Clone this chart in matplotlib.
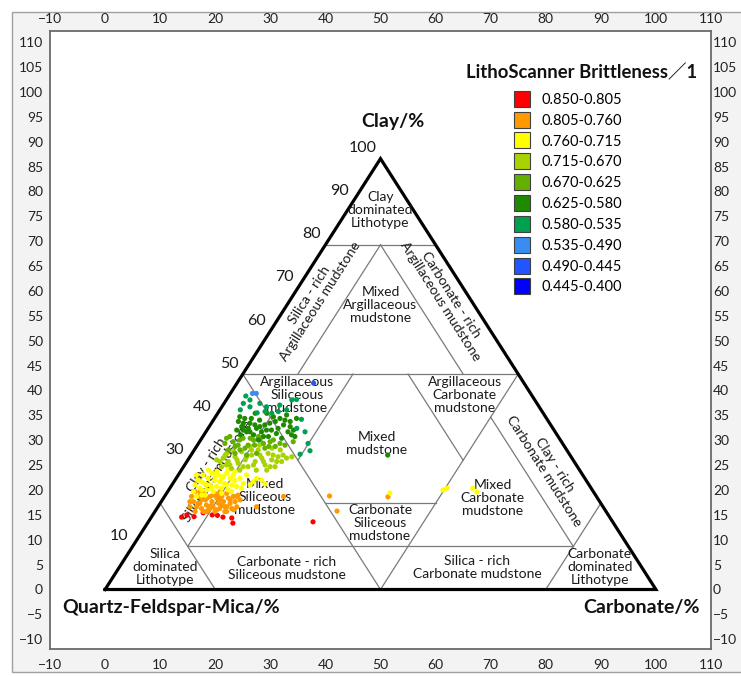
import matplotlib
matplotlib.use("Agg")
import matplotlib.pyplot as plt
from matplotlib.patches import Rectangle
from matplotlib.lines import Line2D
import numpy as np

plt.rcParams['font.family'] = ['Lato', 'DejaVu Sans']

# ---------------- data ----------------
x_ticks = list(range(-10, 111, 10))
y_ticks = list(range(-10, 111, 5))
clay_tick_values = [100, 90, 80, 70, 60, 50, 40, 30, 20, 10]

legend_labels = ["0.850-0.805", "0.805-0.760", "0.760-0.715", "0.715-0.670",
                 "0.670-0.625", "0.625-0.580", "0.580-0.535", "0.535-0.490",
                 "0.490-0.445", "0.445-0.400"]
legend_colors = ["#FF0000", "#FF9900", "#FFFF00", "#A9D300", "#63B000",
                 "#1F8A00", "#00A050", "#3A8DF0", "#2255FF", "#0000FF"]

# samples: clay % and carbonate % (QFM = 100 - clay - carbonate)
red_clay = [16.8, 17.3, 17.8, 17.3, 16.8, 16.6, 15.4, 15.7, 17.2, 16.9]
red_carb = [5.5, 6.2, 8.9, 10.8, 13.0, 14.7, 15.5, 29.9, 11.8, 7.7]

orange_clay = [19.2, 20.4, 18.1, 21.6, 20.0, 18.8, 22.3, 20.8, 19.6, 18.5,
               21.6, 20.4, 19.2, 22.3, 21.2, 20.0, 18.8, 21.6, 20.4, 19.2,
               22.3, 21.2, 20.0, 18.8, 21.6, 20.4, 19.2, 21.9, 19.2, 22.7,
               18.1, 22.7, 21.6, 18.1, 18.1, 20.8, 20.9, 19.4, 19.5, 21.6,
               19.2, 21.7, 18.2, 21.5,
               22.7, 20.0, 18.1, 21.2, 18.8, 21.9, 18.5, 20.8, 18.1, 19.2,
               20.8, 18.5, 20.4, 21.6, 21.9]
orange_carb = [5.8, 5.8, 7.3, 6.2, 7.2, 8.1, 6.7, 7.8, 8.6, 9.5,
               8.3, 9.2, 10.0, 8.8, 9.7, 10.6, 11.4, 10.4, 11.3, 12.2,
               10.9, 11.8, 12.7, 13.6, 12.5, 13.4, 14.3, 13.2, 7.0, 5.9,
               9.4, 9.5, 4.9, 10.9, 13.0, 14.1, 7.1, 9.5, 11.5, 21.6,
               17.9, 29.9, 33.0, 40.6,
               5.0, 6.9, 8.8, 7.9, 9.6, 8.7, 11.0, 10.5, 12.7, 12.5,
               12.3, 14.1, 5.2, 13.1, 9.6]

yellow_clay = [22.7, 24.3, 25.4, 23.5, 26.6, 24.6, 23.1, 25.8, 24.3, 27.0,
               22.7, 25.4, 23.9, 26.6, 25.0, 23.5, 26.2, 24.6, 27.0, 23.1,
               25.8, 24.3, 26.6, 25.3, 23.9, 25.8, 24.6, 26.6, 25.0, 25.4,
               24.5, 21.9, 21.6, 21.9, 22.3, 27.7, 27.4, 27.7,
               22.4, 23.1, 23.5, 23.5, 22.6,
               26.6, 25.0, 24.3, 23.5, 26.6, 25.8, 24.3, 22.7, 27.4, 23.5,
               24.3, 25.8, 23.1]
yellow_carb = [4.7, 4.2, 4.2, 5.5, 4.5, 5.8, 6.9, 5.8, 6.9, 5.9,
               8.3, 7.2, 8.3, 7.3, 8.3, 9.4, 8.4, 9.4, 8.6, 10.8,
               9.8, 10.9, 10.0, 10.9, 11.9, 11.6, 12.8, 12.4, 14.4, 15.7,
               16.8, 6.6, 5.8, 7.2, 10.0, 4.9, 6.6, 8.5,
               40.5, 49.8, 50.3, 55.0, 56.2,
               3.3, 5.0, 6.3, 7.6, 6.7, 8.3, 9.9, 11.6, 9.9, 13.0,
               14.2, 14.6, 6.0]

ygreen_clay = [30.1, 28.5, 31.2, 29.7, 28.1, 30.8, 29.3, 32.0, 30.1, 28.5,
               31.2, 29.7, 32.4, 30.5, 28.9, 31.6, 30.1, 28.5, 30.8, 29.7,
               30.5, 30.8, 27.7, 27.7, 27.7, 33.2, 33.5, 32.8, 32.4, 29.7,
               28.9,
               30.5, 28.9, 32.0, 30.1, 28.5, 30.8, 28.9, 31.2, 29.7, 28.5,
               31.2, 31.2, 29.7, 31.6, 32.4]
ygreen_carb = [5.2, 6.9, 6.2, 7.5, 8.9, 8.2, 9.5, 8.8, 10.4, 11.7,
               11.0, 12.4, 11.6, 13.2, 14.6, 13.8, 15.2, 16.6, 16.0, 17.2,
               17.7, 18.5, 13.6, 15.5, 10.6, 9.7, 11.3, 13.9, 15.6, 6.0,
               7.6,
               6.2, 8.2, 7.3, 8.9, 10.8, 10.3, 12.5, 12.5, 13.9, 15.7,
               14.9, 16.7, 16.3, 6.3, 10.4]

mgreen_clay = [33.9, 35.5, 33.2, 34.7, 32.8, 35.1, 33.5, 34.7, 32.8, 34.3,
               33.2, 31.6, 31.2, 32.4, 33.5, 34.3, 31.6,
               35.1, 34.3, 33.5, 35.1, 33.5, 34.7, 35.5, 33.9, 33.2, 34.7,
               33.9, 32.4]
mgreen_carb = [4.8, 4.9, 7.0, 7.1, 9.0, 8.8, 10.4, 10.8, 12.6, 12.8,
               14.3, 11.7, 10.1, 6.2, 15.9, 17.0, 7.8,
               4.5, 6.1, 7.4, 7.5, 9.2, 9.6, 10.1, 11.8, 13.1, 13.2,
               14.8, 8.3]

dgreen_clay = [39.0, 37.8, 39.7, 36.6, 38.6, 35.9, 37.4, 39.3, 36.6, 38.2,
               35.5, 37.0, 39.0, 39.7, 38.2, 40.5, 39.0, 37.0, 35.5, 39.7,
               35.9, 37.0, 40.9, 40.9, 36.2, 34.7, 35.1, 36.6, 31.2,
               40.1, 38.6, 37.4, 39.7, 38.2, 37.8, 35.5, 37.0, 38.6, 40.1,
               37.4, 39.3, 37.8, 35.9, 36.6, 37.0]
dgreen_carb = [4.7, 5.9, 5.5, 7.4, 7.0, 9.0, 8.8, 8.4, 10.1, 9.9,
               11.9, 11.7, 11.4, 11.9, 13.3, 12.7, 14.1, 15.7, 16.7, 14.9,
               6.6, 5.4, 6.8, 8.9, 13.0, 10.5, 14.5, 14.9, 35.7,
               4.4, 5.8, 7.3, 6.7, 8.1, 9.2, 11.0, 10.8, 10.6, 10.5,
               12.7, 13.0, 14.7, 15.9, 8.0, 6.6]

green_clay = [44.9, 43.2, 42.4, 41.0, 41.3, 40.9, 41.3, 44.0, 44.1, 39.5,
              37.4, 33.9, 32.2, 31.4, 42.4, 44.0, 43.2, 42.8, 41.7, 41.7,
              36.6]
green_carb = [3.1, 3.5, 5.1, 7.1, 8.4, 9.8, 10.8, 11.9, 12.7, 15.9,
              16.1, 19.9, 21.1, 19.7, 8.1, 4.3, 6.5, 10.3, 12.1, 3.7,
              18.0]

lblue_clay = [45.5, 45.5]
lblue_carb = [4.0, 4.7]

mblue_clay = [47.9]
mblue_carb = [13.9]

dblue_clay = []
dblue_carb = []

classes = [(red_clay, red_carb), (orange_clay, orange_carb),
           (yellow_clay, yellow_carb), (ygreen_clay, ygreen_carb),
           (mgreen_clay, mgreen_carb), (dgreen_clay, dgreen_carb),
           (green_clay, green_carb), (lblue_clay, lblue_carb),
           (mblue_clay, mblue_carb), (dblue_clay, dblue_carb)]

# classification boundaries: (clay, carbonate) end points
boundaries = [((80, 0), (80, 20)), ((50, 0), (50, 50)), ((10, 10), (10, 80)),
              ((20, 30), (20, 50)), ((20, 0), (0, 20)), ((0, 80), (20, 80)),
              ((50, 0), (0, 50)), ((50, 50), (0, 50)), ((80, 10), (50, 10)),
              ((80, 10), (50, 40)), ((40, 10), (10, 10)), ((40, 50), (10, 80)),
              ((50, 20), (30, 20)), ((50, 30), (30, 50))]

S3 = np.sqrt(3) / 2


def tern(clay, carb):
    clay = np.asarray(clay, dtype=float)
    carb = np.asarray(carb, dtype=float)
    return carb + clay / 2.0, clay * S3


# ---------------- figure ----------------
W, H = 741, 676
fig = plt.figure(figsize=(W / 100, H / 100), dpi=100, facecolor="white")
bg = Rectangle((12 / W, 4 / H), 1.2, (H - 16) / H,
               transform=fig.transFigure, facecolor="#f3f3f3",
               edgecolor="#a0a0a0", lw=1.0, zorder=-10)
fig.patches.append(bg)
ax = fig.add_axes([50 / W, 27 / H, 661 / W, 618 / H])
ax.set_zorder(5)
ax.set_facecolor("white")
ax.set_xlim(-10, 110)
ax.set_ylim(-11.96, 112.26)
ax.set_xticks(x_ticks)
ax.set_yticks(y_ticks)
ax.tick_params(axis="x", length=0, labelsize=10, pad=7, colors="#222222")
ax.tick_params(axis="y", length=0, labelsize=10, pad=5, colors="#222222")
for s in ax.spines.values():
    s.set_color("#6a6a6a")
    s.set_linewidth(1.3)

secx = ax.secondary_xaxis("top")
secx.set_xticks(x_ticks)
secx.tick_params(length=0, labelsize=10, pad=4.5, colors="#222222")
secy = ax.secondary_yaxis("right")
secy.set_yticks(y_ticks)
secy.tick_params(length=0, labelsize=10, pad=1.5, colors="#222222")
for sa in (secx, secy):
    for s in sa.spines.values():
        s.set_visible(False)

# boundaries
for (p1, p2) in boundaries:
    xs, ys = tern([p1[0], p2[0]], [p1[1], p2[1]])
    ax.plot(xs, ys, color="#7a7a7a", lw=0.9, zorder=2)

# outline
ox, oy = tern([0, 100, 0, 0], [0, 0, 100, 0])
ax.plot(ox, oy, color="black", lw=2.3, zorder=3, solid_joinstyle="miter")

# clay ticks along left edge
for v in clay_tick_values:
    tx, ty = tern(v, 0)
    ax.annotate(str(v), (tx, ty), xytext=(-3, 7.5), textcoords="offset points",
                ha="right", va="center", fontsize=11.5, color="#1a1a1a")

# region labels
region_labels = [
    ("Clay\ndominated\nLithotype", 50, 76.3, 0),
    ("Mixed\nArgillaceous\nmudstone", 50, 57.2, 0),
    ("Silica - rich\nArgillaceous mudstone", 38.1, 58.6, 57.5),
    ("Carbonate - rich\nArgillaceous mudstone", 61.9, 58.6, -57.5),
    ("Argillaceous\nSiliceous\nmudstone", 34.8, 39.1, 0),
    ("Argillaceous\nCarbonate\nmudstone", 65.3, 39.1, 0),
    ("Mixed\nmudstone", 49.3, 29.4, 0),
    ("Mixed\nSiliceous\nmudstone", 29.0, 18.6, 0),
    ("Clay - rich\nSiliceous mudstone", 19.4, 24.4, 57.5),
    ("Carbonate\nSiliceous\nmudstone", 49.9, 13.4, 0),
    ("Mixed\nCarbonate\nmudstone", 70.4, 18.4, 0),
    ("Clay - rich\nCarbonate mudstone", 80.6, 24.4, -57.5),
    ("Silica\ndominated\nLithotype", 10.9, 4.5, 0),
    ("Carbonate - rich\nSiliceous mudstone", 33.0, 4.3, 0),
    ("Silica - rich\nCarbonate mudstone", 67.5, 4.5, 0),
    ("Carbonate\ndominated\nLithotype", 89.8, 4.5, 0),
]
for txt, x, y, rot in region_labels:
    ax.text(x, y, txt, ha="center", va="center", rotation=rot,
            rotation_mode="anchor", fontsize=10, color="#1a1a1a",
            linespacing=1.08, zorder=4)

# samples
for (cl, cb), col in zip(classes, legend_colors):
    if len(cl) == 0:
        continue
    px, py = tern(cl, cb)
    ax.scatter(px, py, s=14, color=col, edgecolors="none", zorder=5)

# titles
ax.text(52.3, 94.0, "Clay/%", ha="center", va="center", fontsize=14,
        fontweight="bold", color="#111111")
ax.text(-7.8, -3.7, "Quartz-Feldspar-Mica/%", ha="left", va="center",
        fontsize=14, fontweight="bold", color="#111111")
ax.text(108.0, -3.7, "Carbonate/%", ha="right", va="center", fontsize=14,
        fontweight="bold", color="#111111")
ax.text(65.5, 104.0, "LithoScanner Brittleness\uff0f1", ha="left", va="center",
        fontsize=13.3, fontweight="bold", color="#111111",
        family=["Lato", "Noto Sans CJK SC", "DejaVu Sans"])

# legend
handles = [Line2D([], [], linestyle="none", marker="s", markersize=11.5,
                  markerfacecolor=c, markeredgecolor="#404040",
                  markeredgewidth=0.8) for c in legend_colors]
ax.legend(handles, legend_labels, loc="upper left",
          bbox_to_anchor=(0.703, 0.900), frameon=False, fontsize=10.5,
          handlelength=1.0, handletextpad=0.85, labelspacing=0.47,
          borderpad=0, borderaxespad=0)

fig.savefig("out.png", dpi=100, facecolor=fig.get_facecolor())
